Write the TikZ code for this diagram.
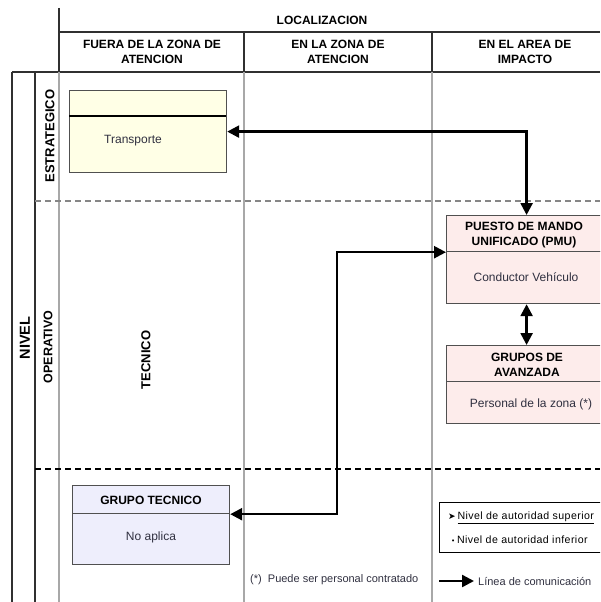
\documentclass[tikz,border=0pt]{standalone}
\usepackage{fontspec}
\setmainfont{Liberation Sans}
\newfontfamily\symfont{DejaVu Sans}
\newfontfamily\spacedfont[LetterSpace=4]{Liberation Sans}
\usetikzlibrary{arrows.meta}
\definecolor{gridgray}{HTML}{A8A8A8}
\definecolor{framegray}{HTML}{303030}
\definecolor{boxline}{HTML}{505050}
\definecolor{yellowfill}{HTML}{FFFFE6}
\definecolor{pinkfill}{HTML}{FDECEB}
\definecolor{bluefill}{HTML}{EEEEFC}
\definecolor{textgray}{HTML}{303040}
\begin{document}
\begin{tikzpicture}[x=1pt,y=-1pt,
  frame/.style={draw=framegray, line width=1.3pt},
  grid/.style={draw=gridgray, line width=1.4pt},
  hdr/.style={font=\fontsize{12}{15}\selectfont\bfseries, align=center, inner sep=0pt},
  side/.style={font=\fontsize{13}{15}\selectfont\bfseries, rotate=90, inner sep=0pt},
  boxpart/.style={draw=boxline, line width=1.2pt, anchor=north west, inner sep=0pt},
  body/.style={font=\fontsize{12}{14}\selectfont, text=textgray, inner sep=0pt},
  note/.style={font=\fontsize{11}{13}\selectfont, text=textgray, inner sep=0pt},
  small/.style={font=\spacedfont\fontsize{10.6}{12}\selectfont, inner sep=0pt, anchor=west},
  comm/.style={line width=2.4pt, {Triangle[length=12pt,width=12pt]}-{Triangle[length=12pt,width=12pt]}},
]
\useasboundingbox (0,0) rectangle (600,602);
\clip (0,0) rectangle (600,602);

% header grid
\draw[frame] (59,8) -- (59,72);
\draw[frame] (59,32) -- (600,32);
\draw[frame] (12,72) -- (600,72);
\draw[frame] (244,32) -- (244,72);
\draw[frame] (432,32) -- (432,72);

% body columns
\draw[grid] (59,72) -- (59,602);
\draw[grid] (244,72) -- (244,602);
\draw[grid] (432,72) -- (432,602);

% level column
\draw[frame] (12,72) -- (12,602);
\draw[frame] (35,72) -- (35,602);

% level separators
\draw[draw=gridgray!80!black, line width=1.3pt, dash pattern=on 6pt off 4pt] (35,201) -- (600,201);
\draw[draw=black, line width=1.3pt, dash pattern=on 6pt off 4pt] (35,469) -- (600,469);

% header texts
\node[hdr] (loc) at (322,20) {LOCALIZACION};
\node[hdr] (c1) at (152,51.5) {FUERA DE LA ZONA DE\\ATENCION};
\node[hdr] (c2) at (338,51.5) {EN LA ZONA DE\\ATENCION};
\node[hdr] (c3) at (525,51.5) {EN EL AREA DE\\IMPACTO};

% side labels
\node[side, font=\fontsize{14.5}{16}\selectfont\bfseries] (nivel) at (25,338) {NIVEL};
\node[side] (estr) at (50,136) {ESTRATEGICO};
\node[side, font=\fontsize{12.5}{15}\selectfont\bfseries] (oper) at (48,347) {OPERATIVO};
\node[side] (tecn) at (146,360) {TECNICO};

% strategic box
\node[boxpart, fill=yellowfill, minimum width=157pt, minimum height=82pt] (trans) at (69,90) {};
\draw[draw=black, line width=1.1pt] (69,116) -- (226,116);
\node[body] (transtxt) at (133,141) {Transporte};

% unified command post
\node[boxpart, fill=pinkfill, minimum width=160pt, minimum height=36pt] (pmuH) at (446,215) {};
\node[boxpart, fill=pinkfill, minimum width=160pt, minimum height=52pt] (pmuB) at (446,251) {};
\node[hdr] (pmuT) at (524,235) {PUESTO DE MANDO\\UNIFICADO (PMU)};
\node[body] (pmuTxt) at (526,277) {Conductor Vehículo};

% advance groups
\node[boxpart, fill=pinkfill, minimum width=160pt, minimum height=36pt] (grH) at (446,345) {};
\node[boxpart, fill=pinkfill, minimum width=160pt, minimum height=42pt] (grB) at (446,381) {};
\node[hdr] (grT) at (527,364.5) {GRUPOS DE\\AVANZADA};
\node[body] (grTxt) at (531,404) {Personal de la zona (*)};

% technical group
\node[boxpart, fill=bluefill, minimum width=157pt, minimum height=28pt] (tecH) at (72,485) {};
\node[boxpart, fill=bluefill, minimum width=157pt, minimum height=51pt] (tecB) at (72,513) {};
\node[hdr] (tecT) at (151,500) {GRUPO TECNICO};
\node[body] (tecTxt) at (151,537) {No aplica};

% communication lines
\draw[comm] (pmuH.north) |- (trans.east);
\draw[comm] (pmuB.south) -- (grH.north);
\draw[comm] (tecH.south east) -- ++(107,0) |- (pmuH.south west);

% legend
\node[boxpart, draw=black, minimum width=162pt, minimum height=50pt] (legend) at (439,502) {};
\node[small] (sup) at (448,517.5) {{\symfont\fontsize{9}{10}\selectfont ➤}\,\underline{Nivel de autoridad superior}};
\node[small] (inf) at (451,540) {{\symfont\fontsize{7}{10}\selectfont •}\,Nivel de autoridad inferior};

\node[note, anchor=west] (foot) at (250,580) {(*)\ \ Puede ser personal contratado};
\coordinate (la) at (439,581);
\coordinate (lb) at (474,581);
\draw[line width=2.4pt, -{Triangle[length=12pt,width=12pt]}] (la) -- (lb);
\node[note, anchor=west] (lineatxt) at (478,581) {Línea de comunicación};
\end{tikzpicture}
\end{document}
